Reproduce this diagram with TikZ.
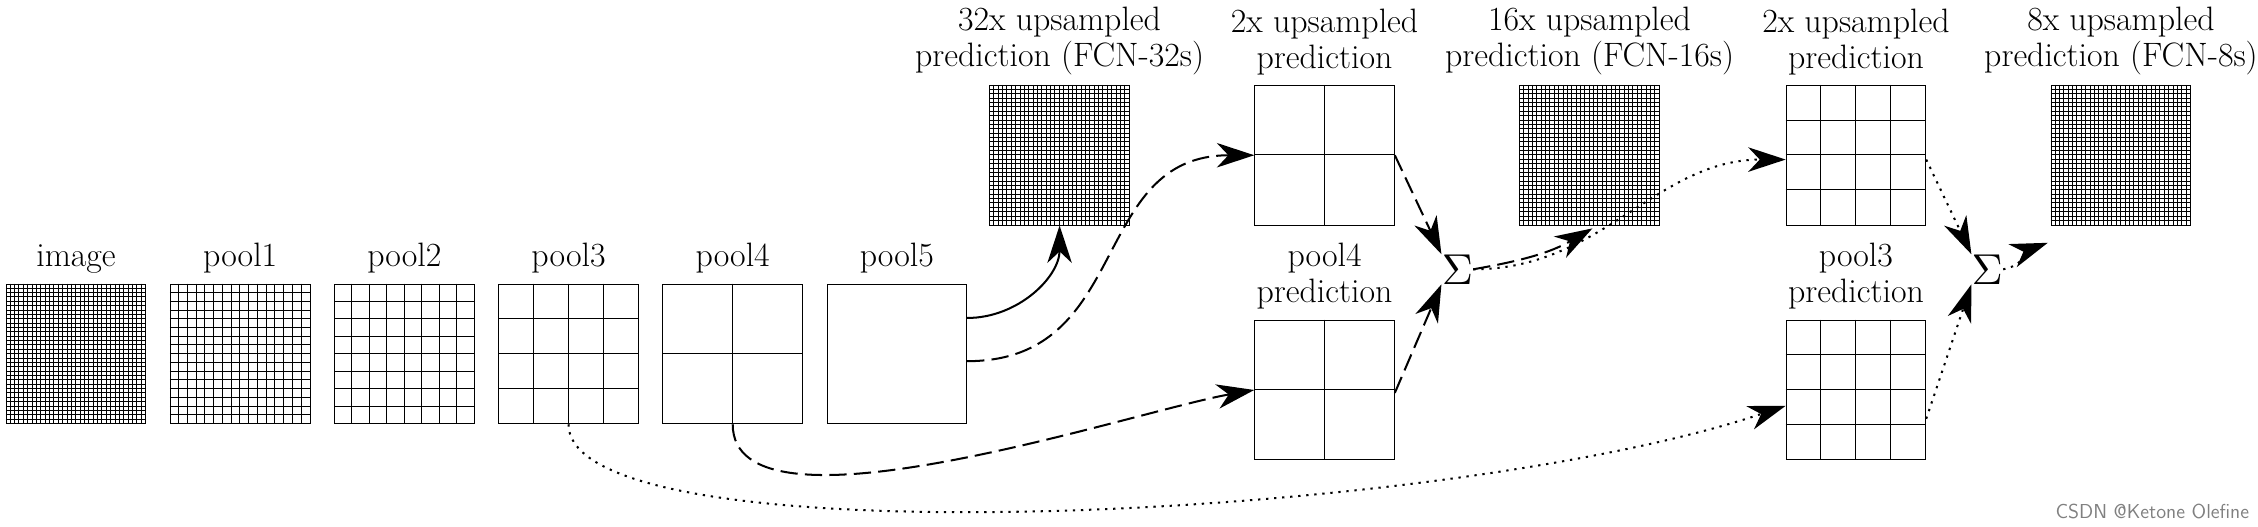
\documentclass[tikz,border=0pt]{standalone}
\usetikzlibrary{arrows.meta,calc}
\begin{document}
\begin{tikzpicture}[x=1pt,y=-1pt,
  lbl/.style={font=\fontsize{23.5}{25}\selectfont,align=center,anchor=south,inner sep=0pt},
  con/.style={line width=1.4pt,-{Stealth[length=26pt,width=17pt,inset=8pt]}},
  dsh/.style={con,dash pattern=on 12pt off 5pt},
  dot/.style={con,dash pattern=on 1.6pt off 4pt},
  sig/.style={inner sep=0pt}]
\useasboundingbox (0,0) rectangle (1568,365.3);
\newcommand{\gbox}[4]{% name, x, y, n
  \node[draw,minimum size=97pt,inner sep=0pt,anchor=north west,line width=0.6pt] (#1) at (#2,#3) {};
  \ifnum#4>1 \foreach \k in {1,...,\numexpr#4-1\relax}{%
    \draw[line width=0.5pt] ($(#2,#3)+(97*\k/#4,0)$) -- ++(0,97);
    \draw[line width=0.5pt] ($(#2,#3)+(0,97*\k/#4)$) -- ++(97,0);}\fi}
\gbox{img}{4}{197}{32}
\gbox{p1}{118}{197}{16}
\gbox{p2}{232}{197}{8}
\gbox{p3}{346}{197}{4}
\gbox{p4}{460}{197}{2}
\gbox{p5}{574}{197}{1}
\gbox{f32}{687}{59}{32}
\gbox{up1}{871}{59}{2}
\gbox{pp4}{871}{222}{2}
\gbox{f16}{1055}{59}{32}
\gbox{up2}{1240}{59}{4}
\gbox{pp3}{1240}{222}{4}
\gbox{f8}{1424}{59}{32}
\node[lbl] (ti) at (img.north) [yshift=7pt] {image};
\node[lbl] (t1) at (p1.north) [yshift=7pt] {pool1};
\node[lbl] (t2) at (p2.north) [yshift=7pt] {pool2};
\node[lbl] (t3) at (p3.north) [yshift=7pt] {pool3};
\node[lbl] (t4) at (p4.north) [yshift=7pt] {pool4};
\node[lbl] (t5) at (p5.north) [yshift=7pt] {pool5};
\node[lbl] (tf32) at (f32.north) [yshift=7pt] {32x upsampled\\prediction (FCN-32s)};
\node[lbl] (tu1) at (up1.north) [yshift=7pt] {2x upsampled\\prediction};
\node[lbl] (tp4) at (pp4.north) [yshift=7pt] {pool4\\prediction};
\node[lbl] (tf16) at (f16.north) [yshift=7pt] {16x upsampled\\prediction (FCN-16s)};
\node[lbl] (tu2) at (up2.north) [yshift=7pt] {2x upsampled\\prediction};
\node[lbl] (tp3) at (pp3.north) [yshift=7pt] {pool3\\prediction};
\node[lbl] (tf8) at (f8.north) [yshift=7pt] {8x upsampled\\prediction (FCN-8s)};
\node[sig] (s1) at (1012,187) {\scalebox{3}{$\Sigma$}};
\node[sig] (s2) at (1380,187) {\scalebox{3}{$\Sigma$}};
\node[font=\sffamily\fontsize{14}{14}\selectfont,text=gray,anchor=east,inner sep=0pt] (wm) at (1562,355) {CSDN @Ketone Olefine};
\draw[con] ([yshift=25pt]p5.east) to[out=0,in=-90] (f32.south);
\draw[dsh] ([yshift=-5pt]p5.east) to[out=0,in=180,looseness=1.2] (up1.west) ;
\draw[dsh] (p4.south) to[out=-90,in=190,looseness=0.6] (pp4.west);
\draw[dsh] (up1.east) -- (s1.north west);
\draw[dsh] ([yshift=-2pt]pp4.east) -- (s1.south west);
\draw[dsh] (s1.east) to[out=10,in=210] ([xshift=2pt,yshift=-2pt]f16.south);
\draw[dot] (s1.east) to[out=0,in=180] ([yshift=-3pt]up2.west);
\draw[dot] (p3.south) .. controls +(0,96) and (1000,362) .. ([yshift=-11pt]pp3.west);
\draw[dot] ([yshift=-3pt]up2.east) -- (s2.north west);
\draw[dot] ([yshift=-20pt]pp3.east) -- (s2.south west);
\draw[dot] (s2.east) to[out=10,in=200] ([xshift=-2pt,yshift=-12pt]f8.south west);
\end{tikzpicture}
\end{document}
